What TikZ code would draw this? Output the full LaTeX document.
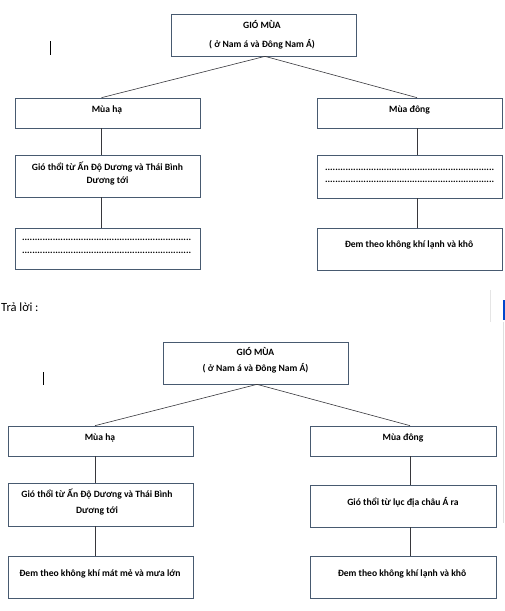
\documentclass[tikz,border=0pt]{standalone}
\usepackage{fontspec}
\setmainfont{Carlito}
\usetikzlibrary{positioning,calc}
\definecolor{boxline}{RGB}{72,90,112}
\definecolor{linkline}{RGB}{55,55,60}
\newcommand{\dotrow}[0]{\makebox[170pt]{\leaders\hbox{.}\hfill}}

\begin{document}
\begin{tikzpicture}[x=1pt,y=-1pt,font=\fontsize{9.6}{14}\selectfont\bfseries]
\tikzstyle{box}=[draw=boxline,line width=0.7pt,minimum width=185pt,inner sep=0pt]
\tikzstyle{txt}=[inner sep=0pt,align=center]
\tikzstyle{link}=[draw=linkline,line width=0.6pt]
\useasboundingbox (0,0) rectangle (505,611);

% upper diagram (question)
\node[box,minimum height=42pt]  (gmA)    at (263.5,35)  {};
\node[box,minimum height=30pt]  (haA)    at (107.5,113) {};
\node[box,minimum height=30pt]  (dongA)  at (409.5,113) {};
\node[box,minimum height=42pt]  (haA2)   at (107.5,176) {};
\node[box,minimum height=41pt]  (haA3)   at (107.5,248.5) {};
\node[box,minimum height=43pt]  (dongA2) at (409.5,176.5) {};
\node[box,minimum height=42pt]  (dongA3) at (409.5,249) {};

\node[txt] (gmAt)    at (262,34.5) {GIÓ MÙA\\[5pt]( ở Nam á và Đông Nam Á)};
\node[txt] (haAt)    at (107,110)  {Mùa hạ};
\node[txt] (dongAt)  at (409.5,110)  {Mùa đông};
\node[txt,font=\fontsize{9.6}{13}\selectfont\bfseries] (haA2t) at (107.5,173.5) {Gió thổi từ Ấn Độ Dương và Thái Bình\\Dương tới};
\node[txt] (haA3t)   at (107,246)  {\dotrow\\[-1pt]\dotrow};
\node[txt] (dongA2t) at (410,175.5) {\dotrow\\[-2pt]\dotrow};
\node[txt] (dongA3t) at (409,245) {Đem theo không khí lạnh và khô};

\path[link] ([xshift=1.5pt]gmA.south) edge ([xshift=-6pt]haA.north)
                                      edge ([xshift=7.5pt]dongA.north)
     ([xshift=-6pt]haA.south)    edge ([xshift=-6pt]haA2.north)
     ([xshift=-6pt]haA2.south)   edge ([xshift=-6pt]haA3.north)
     ([xshift=7.5pt]dongA.south)  edge ([xshift=7.5pt]dongA2.north)
     ([xshift=7.5pt]dongA2.south) edge ([xshift=7.5pt]dongA3.north);

\draw[line width=0.8pt] (50,41) -- (50,55);

% answer
\node[anchor=west,inner sep=0pt,font=\fontsize{12.5}{14}\selectfont] (answer) at (1,307) {Trả lời :};

% lower diagram (answer)
\node[box,minimum height=42pt]  (gmB)    at (255.5,363) {};
\node[box,minimum height=30pt]  (haB)    at (100.5,441) {};
\node[box,minimum height=30pt,minimum width=186pt]  (dongB)  at (403,441) {};
\node[box,minimum height=43pt]  (haB2)   at (100.5,504.5) {};
\node[box,minimum height=42pt,minimum width=186pt]  (dongB2) at (403,506) {};
\node[box,minimum height=42pt]  (haB3)   at (100.5,577) {};
\node[box,minimum height=42pt,minimum width=186pt]  (dongB3) at (403,577) {};

\node[txt] (gmBt)    at (255.5,360) {GIÓ MÙA\\[2pt]( ở Nam á và Đông Nam Á)};
\node[txt] (haBt)    at (100,438)  {Mùa hạ};
\node[txt] (dongBt)  at (403,438)  {Mùa đông};
\node[txt,font=\fontsize{9.6}{16}\selectfont\bfseries] (haB2t) at (97,502) {Gió thổi từ Ấn Độ Dương và Thái Bình\\Dương tới};
\node[txt] (dongB2t) at (403,502)  {Gió thổi từ lục địa châu Á ra};
\node[txt] (haB3t)   at (100,574)  {Đem theo không khí mát mẻ và mưa lớn};
\node[txt] (dongB3t) at (402,574)  {Đem theo không khí lạnh và khô};

\path[link] ([xshift=1.5pt]gmB.south) edge ([xshift=-5.5pt]haB.north)
                                      edge ([xshift=7pt]dongB.north)
     ([xshift=-5.5pt]haB.south)  edge ([xshift=-5.5pt]haB2.north)
     ([xshift=-5.5pt]haB2.south) edge ([xshift=-5.5pt]haB3.north)
     ([xshift=7pt]dongB.south)   edge ([xshift=7pt]dongB2.north)
     ([xshift=7pt]dongB2.south)  edge ([xshift=7pt]dongB3.north);

\draw[line width=0.8pt] (43,372) -- (43,385);

% window edge on the right
\draw[gray!20] (490,290) -- (490,322);
\fill[blue!65!cyan!80!black] (502.5,300) rectangle (505,320);
\draw[gray!25] (503.5,322) -- (503.5,523);
\end{tikzpicture}
\end{document}
